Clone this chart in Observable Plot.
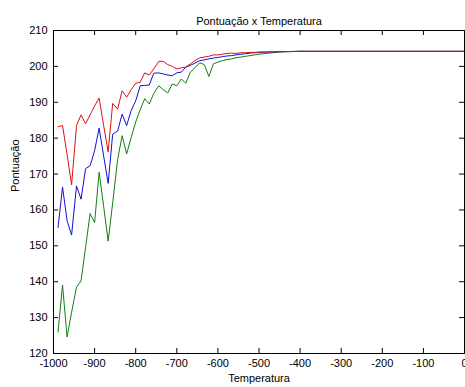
<!DOCTYPE html>
<html><head><meta charset="utf-8">
<script src="https://cdn.jsdelivr.net/npm/d3@7"></script>
<script src="https://cdn.jsdelivr.net/npm/@observablehq/plot@0.6"></script>
<style>body{margin:0;background:#fff;} svg{display:block}</style>
</head><body><div id="chart"></div>
<script>
const temps = [-989, -978, -967, -956, -944, -933, -922, -911, -900, -889,
  -878, -867, -856, -844, -833, -822, -811, -800, -789, -778,
  -767, -756, -744, -733, -722, -711, -700, -689, -678, -667,
  -656, -644, -633, -622, -611, -600, -589, -578, -567, -556,
  -544, -533, -522, -511, -500, -450, -400, -350, -300, -250,
  -200, -150, -100, -50, 0];
const red = [183.2, 183.5, 175.5, 167, 183.5, 186.5, 184, 186.5, 189, 191.2,
  183.5, 176.2, 189.7, 188.1, 193.2, 191.4, 193.5, 195.3, 195.6, 198.2,
  197.6, 199.3, 201.4, 201.4, 200.5, 200, 199.3, 199.6, 199.8, 200.7,
  201.6, 202.4, 202.6, 202.8, 203.2, 203.2, 203.4, 203.6, 203.7, 203.6,
  203.8, 203.8, 203.9, 203.9, 204, 204.1, 204.2, 204.2, 204.2, 204.2,
  204.2, 204.2, 204.2, 204.2, 204.2];
const blue = [155.1, 166.4, 157, 153, 166.7, 163, 171.5, 172.3, 176.5, 182.8,
  175, 167.4, 181.1, 182, 186.7, 183.5, 187.7, 190.4, 194.6, 194.7,
  194.8, 198.1, 198.2, 197.9, 197.6, 197.4, 198.2, 198.4, 199.8, 200.3,
  200.9, 201.6, 201.8, 202.1, 202.3, 202.5, 202.7, 202.9, 203, 203.2,
  203.4, 203.5, 203.7, 203.8, 203.9, 204.1, 204.2, 204.2, 204.2, 204.2,
  204.2, 204.2, 204.2, 204.2, 204.2];
const green = [126, 139.1, 124.6, 131.5, 138.5, 140.2, 149.5, 159, 156.5, 170.5,
  161, 151.3, 162, 174, 180.7, 175.6, 180.2, 184.5, 188, 191,
  189.5, 192.5, 194.6, 193.5, 192.6, 195.1, 194.6, 196.5, 195.3, 198.4,
  199.6, 201, 200.5, 197.2, 200.7, 201.2, 201.6, 201.9, 202.1, 202.4,
  202.6, 202.8, 203, 203.2, 203.4, 204, 204.2, 204.2, 204.2, 204.2,
  204.2, 204.2, 204.2, 204.2, 204.2];
const xTicks = [-1000, -900, -800, -700, -600, -500, -400, -300, -200, -100, 0];
const yTicks = [120, 130, 140, 150, 160, 170, 180, 190, 200, 210];
const titleText = "Pontuação x Temperatura";
const xLabel = "Temperatura";
const yLabel = "Pontuação";

const rows = (vals) => temps.map((t, i) => ({t, v: vals[i]}));
const W = 465, H = 387, mL = 53, mR = 1, mT = 30, mB = 34;
const plotW = W - mL - mR, plotH = H - mT - mB, tk = 5;
const fmt = d => `${d}`;

const chart = Plot.plot({
  width: W, height: H,
  marginLeft: mL, marginRight: mR, marginTop: mT, marginBottom: mB,
  style: {fontFamily: "'Liberation Sans', Arial, sans-serif", fontSize: "11px", background: "#fff", color: "#000"},
  x: {domain: [-1000, 0]},
  y: {domain: [120, 210]},
  marks: [
    Plot.line(rows(green), {x: "t", y: "v", stroke: "#108010", strokeWidth: 1}),
    Plot.line(rows(blue), {x: "t", y: "v", stroke: "#1010d8", strokeWidth: 1}),
    Plot.line(rows(red), {x: "t", y: "v", stroke: "#e01010", strokeWidth: 1}),
    Plot.tickX(xTicks, {x: d => d, insetTop: plotH - tk, stroke: "#000"}),
    Plot.tickX(xTicks, {x: d => d, insetBottom: plotH - tk, stroke: "#000"}),
    Plot.tickY(yTicks, {y: d => d, insetRight: plotW - tk, stroke: "#000"}),
    Plot.tickY(yTicks, {y: d => d, insetLeft: plotW - tk, stroke: "#000"}),
    Plot.frame({stroke: "#000"}),
    Plot.axisX(xTicks, {anchor: "bottom", tickSize: 0, tickPadding: 6, label: null, tickFormat: fmt}),
    Plot.axisY(yTicks, {anchor: "left", tickSize: 0, tickPadding: 6, label: null, tickFormat: fmt}),
    Plot.text([titleText], {text: d => d, frameAnchor: "top", dy: -13}),
    Plot.text([xLabel], {text: d => d, frameAnchor: "bottom", dy: 28}),
    Plot.text([yLabel], {text: d => d, frameAnchor: "left", dx: -38, rotate: -90})
  ]
});
document.getElementById("chart").append(chart);
</script>
</body></html>
